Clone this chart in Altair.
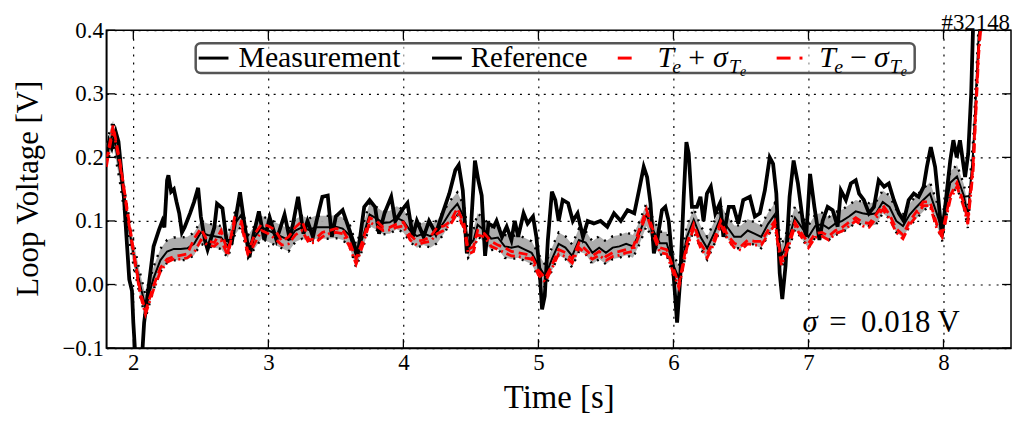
import altair as alt
import pandas as pd

# ---------------- data ----------------
SHOT = "#32148"
SIGMA = 0.018

REF_T = [1.80, 1.85, 1.90, 1.95, 2.00, 2.05, 2.09, 2.15, 2.20, 2.25,
         2.30, 2.35, 2.40, 2.45, 2.50, 2.55, 2.60, 2.65, 2.70, 2.75,
         2.80, 2.85, 2.90, 2.95, 3.00, 3.05, 3.10, 3.15, 3.20, 3.25,
         3.30, 3.35, 3.40, 3.45, 3.50, 3.55, 3.60, 3.65, 3.70, 3.75,
         3.80, 3.85, 3.90, 3.95, 4.00, 4.05, 4.10, 4.15, 4.20, 4.25,
         4.30, 4.35, 4.40, 4.45, 4.48, 4.52, 4.55, 4.60, 4.65, 4.70,
         4.75, 4.80, 4.85, 4.90, 4.95, 5.00, 5.05, 5.10, 5.15, 5.20,
         5.25, 5.30, 5.35, 5.40, 5.45, 5.50, 5.55, 5.60, 5.65, 5.70,
         5.75, 5.80, 5.85, 5.90, 5.95, 6.00, 6.04, 6.10, 6.15, 6.20,
         6.25, 6.30, 6.35, 6.40, 6.45, 6.50, 6.55, 6.60, 6.65, 6.70,
         6.75, 6.80, 6.85, 6.90, 6.95, 7.00, 7.05, 7.10, 7.15, 7.20,
         7.25, 7.30, 7.35, 7.40, 7.45, 7.50, 7.55, 7.60, 7.65, 7.70,
         7.75, 7.80, 7.85, 7.90, 7.95, 7.99, 8.05, 8.10, 8.15, 8.18,
         8.22, 8.26, 8.29]

REF_V = [0.205, 0.240, 0.180, 0.110, 0.050, 0.000, -0.035, 0.010, 0.038, 0.052,
         0.056, 0.056, 0.057, 0.064, 0.082, 0.078, 0.076, 0.074, 0.060, 0.095,
         0.110, 0.060, 0.075, 0.090, 0.085, 0.080, 0.075, 0.070, 0.085, 0.090,
         0.086, 0.090, 0.090, 0.090, 0.091, 0.088, 0.078, 0.045, 0.075, 0.110,
         0.104, 0.097, 0.098, 0.105, 0.100, 0.085, 0.076, 0.080, 0.076, 0.083,
         0.098, 0.115, 0.127, 0.105, 0.060, 0.070, 0.094, 0.085, 0.072, 0.074,
         0.060, 0.058, 0.060, 0.055, 0.050, 0.030, 0.013, 0.040, 0.064, 0.058,
         0.045, 0.070, 0.066, 0.050, 0.058, 0.050, 0.058, 0.060, 0.064, 0.060,
         0.082, 0.110, 0.085, 0.065, 0.065, 0.030, 0.010, 0.075, 0.102, 0.075,
         0.057, 0.080, 0.106, 0.090, 0.075, 0.075, 0.085, 0.080, 0.075, 0.095,
         0.110, 0.045, 0.070, 0.105, 0.090, 0.075, 0.092, 0.095, 0.088, 0.096,
         0.100, 0.107, 0.115, 0.112, 0.110, 0.112, 0.130, 0.122, 0.100, 0.092,
         0.110, 0.122, 0.133, 0.143, 0.112, 0.086, 0.160, 0.170, 0.140, 0.107,
         0.210, 0.390, 0.460]

TE_PLUS = [0.195, 0.250, 0.195, 0.125, 0.055, -0.010, -0.042, -0.002, 0.026, 0.040,
           0.044, 0.046, 0.048, 0.072, 0.088, 0.068, 0.066, 0.085, 0.050, 0.105,
           0.100, 0.050, 0.080, 0.095, 0.092, 0.086, 0.068, 0.075, 0.090, 0.100,
           0.070, 0.072, 0.082, 0.085, 0.088, 0.086, 0.068, 0.040, 0.070, 0.105,
           0.100, 0.090, 0.090, 0.095, 0.098, 0.078, 0.068, 0.070, 0.075, 0.090,
           0.092, 0.100, 0.120, 0.095, 0.055, 0.060, 0.085, 0.080, 0.068, 0.062,
           0.058, 0.052, 0.050, 0.048, 0.045, 0.022, 0.010, 0.030, 0.055, 0.050,
           0.040, 0.065, 0.055, 0.045, 0.052, 0.044, 0.050, 0.052, 0.055, 0.058,
           0.088, 0.118, 0.085, 0.058, 0.055, 0.025, 0.000, 0.065, 0.095, 0.065,
           0.048, 0.070, 0.100, 0.078, 0.065, 0.060, 0.070, 0.068, 0.068, 0.085,
           0.100, 0.038, 0.065, 0.098, 0.080, 0.065, 0.080, 0.082, 0.076, 0.085,
           0.090, 0.098, 0.105, 0.098, 0.096, 0.110, 0.125, 0.110, 0.088, 0.078,
           0.100, 0.115, 0.130, 0.130, 0.095, 0.080, 0.140, 0.160, 0.128, 0.100,
           0.190, 0.370, 0.450]

TE_MINUS = [0.185, 0.245, 0.190, 0.120, 0.050, -0.015, -0.047, -0.008, 0.020, 0.035,
            0.040, 0.040, 0.042, 0.050, 0.070, 0.062, 0.060, 0.070, 0.045, 0.098,
            0.095, 0.045, 0.065, 0.085, 0.080, 0.072, 0.062, 0.064, 0.078, 0.085,
            0.065, 0.066, 0.075, 0.080, 0.082, 0.080, 0.060, 0.032, 0.062, 0.098,
            0.092, 0.085, 0.086, 0.090, 0.092, 0.070, 0.062, 0.066, 0.068, 0.080,
            0.085, 0.095, 0.112, 0.088, 0.048, 0.052, 0.078, 0.075, 0.060, 0.055,
            0.050, 0.045, 0.044, 0.042, 0.040, 0.015, 0.004, 0.025, 0.048, 0.044,
            0.034, 0.058, 0.048, 0.040, 0.046, 0.038, 0.044, 0.046, 0.050, 0.052,
            0.080, 0.112, 0.078, 0.050, 0.048, 0.018, -0.005, 0.058, 0.088, 0.058,
            0.042, 0.064, 0.094, 0.072, 0.058, 0.054, 0.064, 0.062, 0.062, 0.078,
            0.094, 0.030, 0.058, 0.092, 0.074, 0.058, 0.074, 0.076, 0.070, 0.080,
            0.084, 0.092, 0.100, 0.092, 0.090, 0.104, 0.118, 0.104, 0.082, 0.072,
            0.094, 0.108, 0.124, 0.124, 0.088, 0.075, 0.134, 0.154, 0.122, 0.095,
            0.180, 0.360, 0.440]

MEAS_T = [1.80, 1.82, 1.84, 1.87, 1.89, 1.93, 1.97, 1.99, 2.00, 2.02,
          2.06, 2.08, 2.105, 2.15, 2.19, 2.215, 2.23, 2.25, 2.26, 2.28,
          2.30, 2.32, 2.34, 2.36, 2.38, 2.42, 2.45, 2.48, 2.50, 2.53,
          2.55, 2.60, 2.62, 2.66, 2.69, 2.73, 2.77, 2.79, 2.82, 2.86,
          2.89, 2.93, 2.97, 3.01, 3.06, 3.12, 3.16, 3.22, 3.26, 3.29,
          3.33, 3.37, 3.40, 3.44, 3.47, 3.50, 3.55, 3.60, 3.64, 3.66,
          3.71, 3.75, 3.79, 3.82, 3.86, 3.91, 3.94, 3.99, 4.03, 4.07,
          4.10, 4.15, 4.19, 4.24, 4.29, 4.34, 4.385, 4.41, 4.44, 4.47,
          4.495, 4.53, 4.555, 4.58, 4.605, 4.63, 4.67, 4.69, 4.73, 4.765,
          4.80, 4.825, 4.85, 4.89, 4.92, 4.96, 4.985, 5.01, 5.027, 5.047,
          5.07, 5.10, 5.125, 5.15, 5.18, 5.22, 5.255, 5.29, 5.33, 5.365,
          5.41, 5.46, 5.51, 5.56, 5.61, 5.66, 5.71, 5.745, 5.78, 5.805,
          5.83, 5.855, 5.88, 5.915, 5.94, 5.965, 6.00, 6.027, 6.05, 6.076,
          6.096, 6.113, 6.137, 6.174, 6.20, 6.223, 6.248, 6.277, 6.31, 6.345,
          6.37, 6.41, 6.445, 6.48, 6.517, 6.566, 6.603, 6.64, 6.677, 6.713,
          6.738, 6.762, 6.787, 6.806, 6.83, 6.86, 6.89, 6.922, 6.958, 6.983,
          7.012, 7.044, 7.081, 7.105, 7.142, 7.179, 7.216, 7.24, 7.277, 7.314,
          7.35, 7.375, 7.41, 7.448, 7.485, 7.52, 7.56, 7.595, 7.632, 7.67,
          7.706, 7.742, 7.78, 7.816, 7.853, 7.877, 7.906, 7.938, 7.963, 7.988,
          8.012, 8.05, 8.073, 8.098, 8.122, 8.16, 8.183, 8.205, 8.225]

MEAS_V = [0.200, 0.225, 0.215, 0.240, 0.225, 0.138, 0.008, -0.010, -0.060, -0.130,
          -0.130, -0.060, -0.018, 0.060, 0.086, 0.100, 0.090, 0.164, 0.172, 0.146,
          0.150, 0.130, 0.112, 0.082, 0.090, 0.112, 0.130, 0.152, 0.107, 0.070,
          0.055, 0.090, 0.127, 0.120, 0.070, 0.067, 0.120, 0.145, 0.100, 0.043,
          0.078, 0.115, 0.070, 0.105, 0.070, 0.110, 0.070, 0.138, 0.080, 0.100,
          0.075, 0.112, 0.138, 0.140, 0.075, 0.107, 0.117, 0.086, 0.060, 0.044,
          0.122, 0.133, 0.122, 0.080, 0.112, 0.138, 0.100, 0.117, 0.128, 0.075,
          0.100, 0.075, 0.100, 0.080, 0.112, 0.143, 0.180, 0.188, 0.148, 0.049,
          0.070, 0.195, 0.164, 0.140, 0.045, 0.096, 0.091, 0.100, 0.075, 0.091,
          0.070, 0.100, 0.075, 0.112, 0.096, 0.107, 0.075, 0.018, -0.039, -0.018,
          0.070, 0.146, 0.133, 0.100, 0.133, 0.128, 0.100, 0.112, 0.075, 0.100,
          0.096, 0.100, 0.091, 0.112, 0.100, 0.117, 0.112, 0.148, 0.185, 0.169,
          0.128, 0.049, 0.070, 0.117, 0.122, 0.100, 0.018, -0.060, 0.008, 0.138,
          0.224, 0.206, 0.122, 0.122, 0.138, 0.100, 0.143, 0.154, 0.112, 0.128,
          0.075, 0.122, 0.122, 0.096, 0.133, 0.138, 0.107, 0.112, 0.148, 0.200,
          0.190, 0.143, 0.018, -0.023, 0.029, 0.138, 0.195, 0.159, 0.100, 0.075,
          0.174, 0.122, 0.070, 0.100, 0.122, 0.117, 0.091, 0.148, 0.133, 0.159,
          0.164, 0.143, 0.133, 0.112, 0.122, 0.164, 0.154, 0.159, 0.133, 0.112,
          0.100, 0.133, 0.143, 0.138, 0.154, 0.185, 0.216, 0.185, 0.133, 0.076,
          0.122, 0.195, 0.227, 0.200, 0.227, 0.169, 0.206, 0.300, 0.450]

X_TICKS = [2, 3, 4, 5, 6, 7, 8]
Y_TICKS = [-0.1, 0.0, 0.1, 0.2, 0.3, 0.4]
X_DOMAIN = [1.8, 8.5]
Y_DOMAIN = [-0.1, 0.4]

# ---------------- chart ----------------
W, H = 911, 320
FONT = "Liberation Serif"

ref_df = pd.DataFrame({"t": REF_T, "ref": REF_V, "plus": TE_PLUS, "minus": TE_MINUS})
meas_df = pd.DataFrame({"t": MEAS_T, "v": MEAS_V})
one = pd.DataFrame({"_": [0]})

xs = alt.Scale(domain=X_DOMAIN, nice=False, zero=False)
ys = alt.Scale(domain=Y_DOMAIN, nice=False, zero=False)

x_axis = alt.Axis(values=X_TICKS, format="d", title="Time [s]", ticks=False,
                  labelBaseline="alphabetic", labelPadding=22,
                  titleX=W / 2, titleY=60, titleBaseline="alphabetic")
y_axis = alt.Axis(values=Y_TICKS, format=".1f", title="Loop Voltage [V]", ticks=False,
                  labelPadding=3, titleX=-69, titleY=159, titleAngle=-90,
                  titleBaseline="alphabetic", titleAlign="center", titleFontSize=31)

band_src = alt.Chart(ref_df).transform_calculate(
    lo=f"datum.ref - {SIGMA}", hi=f"datum.ref + {SIGMA}")

band = band_src.mark_area(color="#a9a9a9", opacity=0.95, clip=True).encode(
    x=alt.X("t:Q", scale=xs, axis=x_axis),
    y=alt.Y("lo:Q", scale=ys, axis=y_axis),
    y2="hi:Q")

edge_lo = band_src.mark_line(color="black", strokeWidth=2.4, strokeDash=[2, 7], clip=True).encode(
    x=alt.X("t:Q", scale=xs), y=alt.Y("lo:Q", scale=ys))
edge_hi = band_src.mark_line(color="black", strokeWidth=2.4, strokeDash=[2, 7], clip=True).encode(
    x=alt.X("t:Q", scale=xs), y=alt.Y("hi:Q", scale=ys))

meas = alt.Chart(meas_df).mark_line(color="black", strokeWidth=3.8, clip=True).encode(
    x=alt.X("t:Q", scale=xs), y=alt.Y("v:Q", scale=ys))

ref = alt.Chart(ref_df).mark_line(color="black", strokeWidth=2, clip=True).encode(
    x=alt.X("t:Q", scale=xs), y=alt.Y("ref:Q", scale=ys))

plus = alt.Chart(ref_df).mark_line(color="red", strokeWidth=2.8, strokeDash=[9, 5], clip=True).encode(
    x=alt.X("t:Q", scale=xs), y=alt.Y("plus:Q", scale=ys))
minus = alt.Chart(ref_df).mark_line(color="red", strokeWidth=2.8, strokeDash=[9, 4, 2, 4], clip=True).encode(
    x=alt.X("t:Q", scale=xs), y=alt.Y("minus:Q", scale=ys))

# inward ticks on all four sides
xt = pd.DataFrame({"t": X_TICKS})
yt = pd.DataFrame({"v": Y_TICKS})
tick_b = alt.Chart(xt).mark_rule(color="black", strokeWidth=1.3).encode(
    x=alt.X("t:Q", scale=xs), y=alt.value(H), y2=alt.value(H - 9))
tick_t = alt.Chart(xt).mark_rule(color="black", strokeWidth=1.3).encode(
    x=alt.X("t:Q", scale=xs), y=alt.value(0), y2=alt.value(9))
tick_l = alt.Chart(yt).mark_rule(color="black", strokeWidth=1.3).encode(
    y=alt.Y("v:Q", scale=ys), x=alt.value(0), x2=alt.value(9))
tick_r = alt.Chart(yt).mark_rule(color="black", strokeWidth=1.3).encode(
    y=alt.Y("v:Q", scale=ys), x=alt.value(W), x2=alt.value(W - 9))


def txt(s, x, y, size, italic=False, align="left"):
    return alt.Chart(one).mark_text(
        font=FONT, fontSize=size, fontStyle="italic" if italic else "normal",
        align=align, baseline="alphabetic", color="black").encode(
        x=alt.value(x), y=alt.value(y), text=alt.value(s))


def seg(x1, x2, y, color, width=3.0):
    return alt.Chart(one).mark_rule(color=color, strokeWidth=width).encode(
        x=alt.value(x1), x2=alt.value(x2), y=alt.value(y))


legend_box = alt.Chart(one).mark_rect(
    fill="white", fillOpacity=0.55, stroke="#555555", strokeWidth=2.5, cornerRadius=5).encode(
    x=alt.value(90), x2=alt.value(814), y=alt.value(13), y2=alt.value(43))

LB = 37   # legend baseline
LS = 30   # legend font size
legend = [
    legend_box,
    seg(93, 123, 28, "black"), txt("Measurement", 133, LB, LS),
    seg(328, 358, 28, "black"), txt("Reference", 367, LB, LS - 1),
    seg(515, 529, 28, "red"),
    txt("T", 555, LB, LS, True), txt("e", 570, LB + 6, 20, True),
    txt("+", 586, LB, LS), txt("σ", 611, LB, LS, True),
    txt("T", 627, LB + 6, 20, True), txt("e", 638, LB + 9, 14, True),
    seg(675, 689, 28, "red"), seg(698, 701, 28, "red"),
    txt("T", 718, LB, LS, True), txt("e", 733, LB + 6, 20, True),
    txt("−", 749, LB, LS), txt("σ", 773, LB, LS, True),
    txt("T", 789, LB + 6, 20, True), txt("e", 800, LB + 9, 14, True),
]

notes = [
    txt("σ", 701, 304, 31, True), txt("=", 728, 304, 31), txt("0.018 V", 760, 304, 31),
    txt(SHOT, 910, 0, 23, align="right"),
]

chart = alt.layer(
    band, edge_lo, edge_hi, meas, ref, plus, minus,
    tick_b, tick_t, tick_l, tick_r, *legend, *notes
).properties(
    width=W, height=H,
    autosize=alt.AutoSizeParams(type="none"),
    padding={"left": 99, "top": 21, "right": 2, "bottom": 70},
).configure_view(
    stroke="black", strokeWidth=1.5
).configure_axis(
    domainColor="black", domainWidth=1.5,
    grid=True, gridColor="black", gridDash=[2, 6], gridWidth=1.2, gridOpacity=1,
    labelFont=FONT, labelFontSize=23, labelColor="black",
    titleFont=FONT, titleFontSize=33, titleFontWeight="normal", titleColor="black",
)

chart.save("out.html", embed_options={"renderer": "svg", "actions": False})
